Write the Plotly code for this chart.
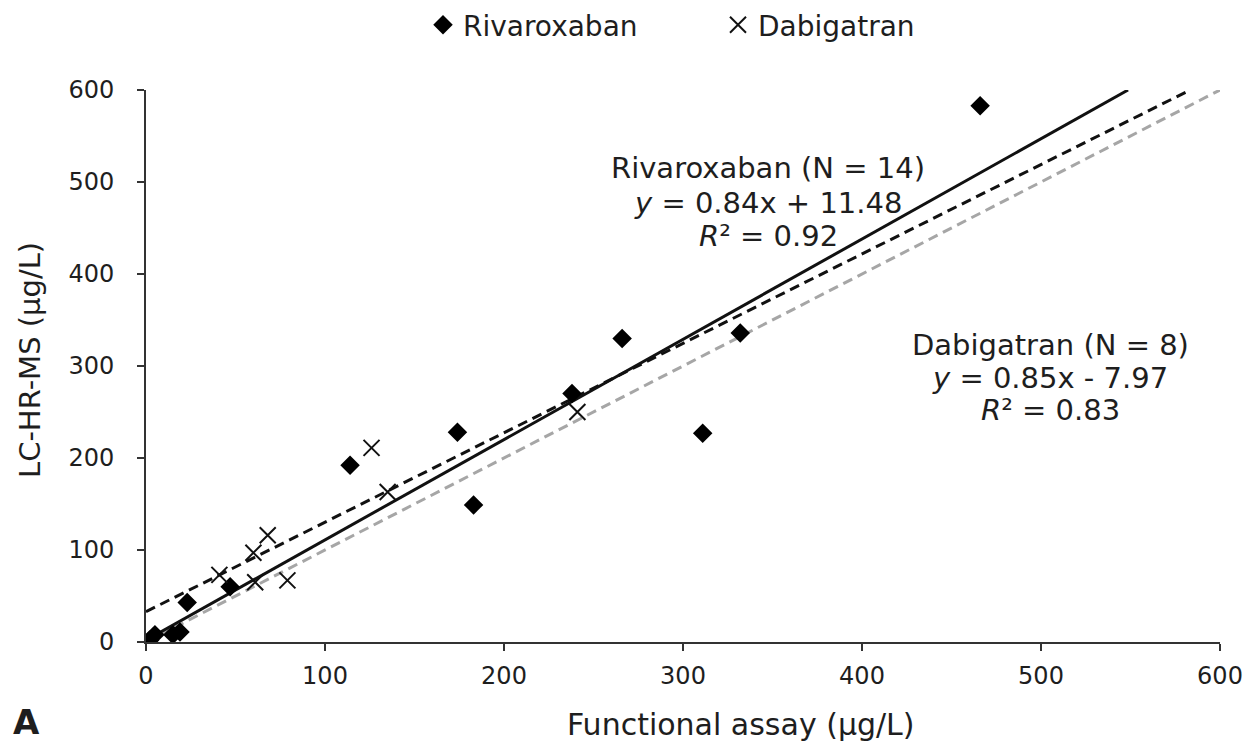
import plotly.graph_objects as go

# Data
riva_x = [2, 5, 15, 19, 23, 47, 114, 174, 183, 238, 266, 311, 332, 466]
riva_y = [2, 8, 8, 11, 43, 60, 192, 228, 149, 270, 330, 227, 336, 583]
dabi_x = [41, 60, 61, 68, 79, 126, 135, 241]
dabi_y = [73, 97, 65, 116, 67, 211, 163, 250]

# Trend lines (slope, intercept) as drawn
riva_fit = (1.09, 2.0)
dabi_fit = (0.972, 33.0)
identity = (1.0, 0.0)
axis_max = 600

x_ticks = [0, 100, 200, 300, 400, 500, 600]
y_ticks = [0, 100, 200, 300, 400, 500, 600]

riva_label = ["Rivaroxaban (N = 14)", "<i>y</i> = 0.84x + 11.48", "<i>R</i>² = 0.92"]
dabi_label = ["Dabigatran (N = 8)", "<i>y</i> = 0.85x - 7.97", "<i>R</i>² = 0.83"]

FONT = "DejaVu Sans, Liberation Sans, Arial, sans-serif"
TXT = "#1e1e1e"
W, H = 1245, 747
ML, MR, MT, MB = 146, 25, 90, 105


def line_pts(fit):
    m, b = fit
    x_end = min(axis_max, (axis_max - b) / m)
    return [0, x_end], [b, m * x_end + b]


def px_x(p):
    return (p - ML) / (W - ML - MR)


def px_y(p):
    return (H - MB - p) / (H - MT - MB)


fig = go.Figure()

for fit, color, dash in [(identity, "#a6a6a6", "10px,6px"),
                         (dabi_fit, "#111111", "10px,6px"),
                         (riva_fit, "#111111", "solid")]:
    lx, ly = line_pts(fit)
    fig.add_trace(go.Scatter(x=lx, y=ly, mode="lines", showlegend=False,
                             line=dict(color=color, width=3, dash=dash),
                             hoverinfo="skip"))

fig.add_trace(go.Scatter(x=riva_x, y=riva_y, mode="markers", name="Rivaroxaban",
                         marker=dict(symbol="diamond", size=15, color="#000000",
                                     line=dict(width=0))))
fig.add_trace(go.Scatter(x=dabi_x, y=dabi_y, mode="markers", name="Dabigatran",
                         marker=dict(symbol="x-thin-open", size=16, color="#111111",
                                     line=dict(width=2, color="#111111"))))

# Regression annotations, one line each
for lines, cx, ys in [(riva_label, 768, [168, 203, 236]),
                      (dabi_label, 1050, [345, 378, 410])]:
    for t, yy in zip(lines, ys):
        fig.add_annotation(x=px_x(cx), y=px_y(yy), xref="paper", yref="paper",
                           showarrow=False, xanchor="center", yanchor="middle",
                           text=t, font=dict(family=FONT, size=29, color=TXT))

# Axis titles
fig.add_annotation(x=px_x(741), y=px_y(725), xref="paper", yref="paper",
                   showarrow=False, xanchor="center", yanchor="middle",
                   text="Functional assay (µg/L)",
                   font=dict(family=FONT, size=30, color=TXT))
fig.add_annotation(x=px_x(30), y=px_y(360), xref="paper", yref="paper",
                   showarrow=False, xanchor="center", yanchor="middle", textangle=-90,
                   text="LC-HR-MS (µg/L)",
                   font=dict(family=FONT, size=29, color=TXT))
# Panel letter
fig.add_annotation(x=px_x(26), y=px_y(722), xref="paper", yref="paper",
                   showarrow=False, xanchor="center", yanchor="middle",
                   text="<b>A</b>", font=dict(family=FONT, size=34, color=TXT))

axis_common = dict(range=[0, axis_max], showgrid=False, zeroline=False,
                   showline=True, linecolor="#333333", linewidth=2,
                   ticks="outside", ticklen=7, tickwidth=2, tickcolor="#333333",
                   tickfont=dict(family=FONT, size=24, color=TXT))

fig.update_xaxes(**axis_common, tickvals=x_ticks, ticklabelstandoff=4)
fig.update_yaxes(**axis_common, tickvals=y_ticks, ticklabelstandoff=18)

fig.update_layout(
    width=W, height=H,
    margin=dict(l=ML, r=MR, t=MT, b=MB, autoexpand=False),
    plot_bgcolor="white", paper_bgcolor="white",
    font=dict(family=FONT, size=24, color=TXT),
    legend=dict(orientation="h", xref="container", yref="container",
                x=423 / W, xanchor="left", y=1 - 25 / H, yanchor="middle",
                font=dict(family=FONT, size=28, color=TXT),
                itemwidth=30, entrywidth=250, entrywidthmode="pixels"),
)

fig.write_html("out.html",
               config={"displayModeBar": False},
               post_script="document.body.style.margin='0';"
                           "document.body.style.overflow='hidden';")
